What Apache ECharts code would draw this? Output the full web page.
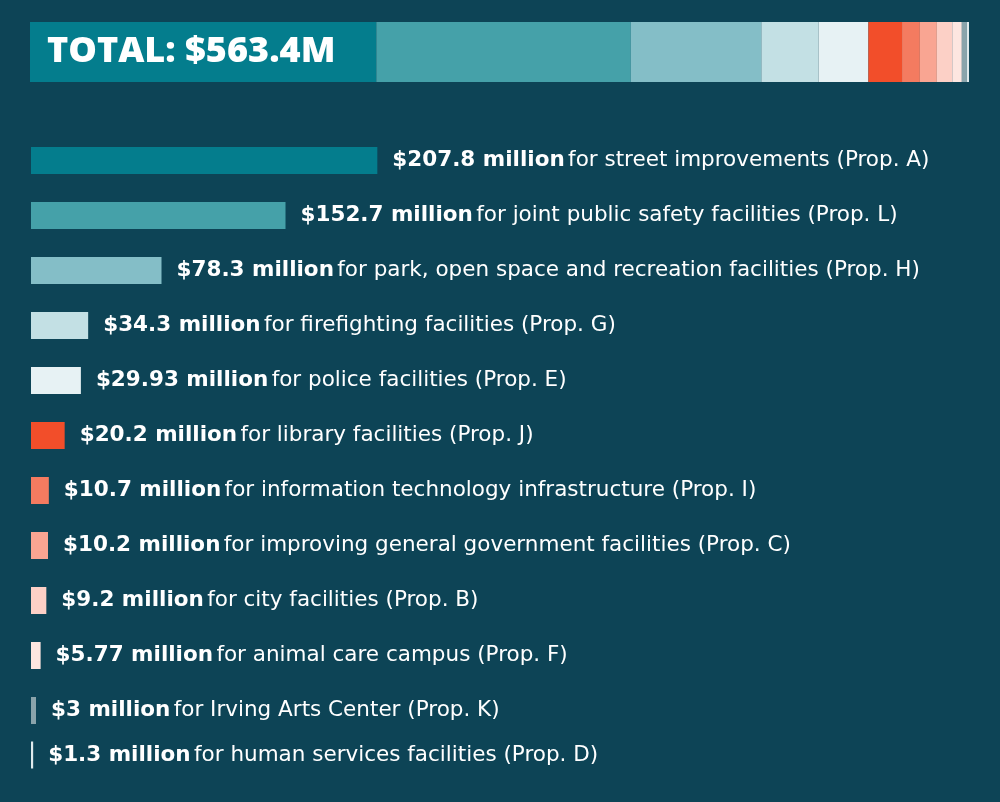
<!DOCTYPE html>
<html>
<head>
  <meta charset="UTF-8">
  <title>Bond propositions total</title>
  <script src="https://cdn.jsdelivr.net/npm/echarts@6/dist/echarts.min.js"></script>
  <style>
    html, body { margin: 0; padding: 0; background: #0d4456; }
    #chart { width: 1000px; height: 802px; }
  </style>
</head>
<body>
  <div id="chart"></div>
  <script>
    // amounts in millions, in the order shown
    var values = [207.8, 152.7, 78.3, 34.3, 29.93, 20.2, 10.7, 10.2, 9.2, 5.77, 3, 1.3];
    var descriptions = [
      'for street improvements (Prop. A)',
      'for joint public safety facilities (Prop. L)',
      'for park, open space and recreation facilities (Prop. H)',
      'for firefighting facilities (Prop. G)',
      'for police facilities (Prop. E)',
      'for library facilities (Prop. J)',
      'for information technology infrastructure (Prop. I)',
      'for improving general government facilities (Prop. C)',
      'for city facilities (Prop. B)',
      'for animal care campus (Prop. F)',
      'for Irving Arts Center (Prop. K)',
      'for human services facilities (Prop. D)'
    ];
    var colors = ['#047d8d', '#45a1a9', '#84bec7', '#c3e0e4', '#e7f2f4', '#f24e2a',
                  '#f47b60', '#f9a592', '#fcd0c6', '#fde6e0', '#8aa4ab', '#dfeaec'];
    var totalLabel = 'TOTAL: $563.4M';
    var total = 563.4;

    var chart = echarts.init(document.getElementById('chart'));

    var font = '"DejaVu Sans", "Noto Sans", sans-serif';
    function rowLabel(i) {
      return {
        show: true,
        position: 'right',
        distance: 15,
        formatter: '{b|$' + values[i] + ' million} {r|' + descriptions[i] + '}',
        rich: {
          b: { color: '#ffffff', fontSize: 21.5, fontWeight: 'bold', fontFamily: font },
          r: { color: '#ffffff', fontSize: 21.5, fontFamily: font }
        }
      };
    }
    function rowData(from, to) {
      var out = [];
      for (var i = from; i < to; i++) {
        out.push({ value: values[i], itemStyle: { color: colors[i] }, label: rowLabel(i) });
      }
      return out;
    }

    function xAxis(idx) {
      return { type: 'value', gridIndex: idx, min: 0, max: total, show: false };
    }
    function yAxis(idx, n) {
      var cats = [];
      for (var i = 0; i < n; i++) cats.push(String(i));
      return { type: 'category', gridIndex: idx, data: cats, inverse: true, show: false };
    }

    // stacked total bar on top
    var stackSeries = values.map(function (v, i) {
      return {
        type: 'bar', xAxisIndex: 0, yAxisIndex: 0, stack: 'total',
        barWidth: 60, data: [v], itemStyle: { color: colors[i] },
        silent: true
      };
    });

    chart.setOption({
      backgroundColor: '#0d4456',
      animation: false,
      grid: [
        { left: 30, width: 939, top: 22, height: 60 },
        { left: 31, width: 939, top: 133, height: 605 },
        { left: 31, width: 939, top: 741, height: 28 }
      ],
      xAxis: [xAxis(0), xAxis(1), xAxis(2)],
      yAxis: [yAxis(0, 1), yAxis(1, 11), yAxis(2, 1)],
      graphic: [{
        type: 'text', left: 47, top: 34, z: 100, zlevel: 1,
        style: {
          text: totalLabel, fill: '#ffffff',
          fontSize: 36, fontWeight: 800, fontFamily: '"Open Sans", "Noto Sans", sans-serif'
        }
      }],
      series: stackSeries.concat([
        { type: 'bar', xAxisIndex: 1, yAxisIndex: 1, barWidth: 27, data: rowData(0, 11) },
        { type: 'bar', xAxisIndex: 2, yAxisIndex: 2, barWidth: 27, data: rowData(11, 12) }
      ])
    });
  </script>
</body>
</html>
